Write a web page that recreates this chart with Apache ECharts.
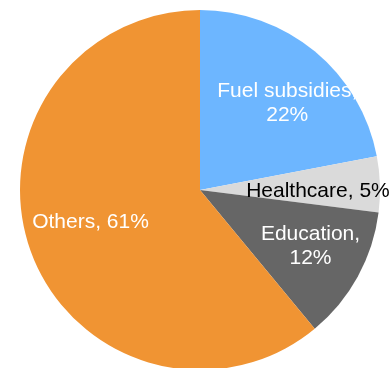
<!DOCTYPE html>
<html>
<head>
<meta charset="utf-8">
<style>
  html, body { margin: 0; padding: 0; background: #fff; }
  #chart { width: 389px; height: 368px; }
</style>
<script src="https://cdn.jsdelivr.net/npm/echarts@6/dist/echarts.min.js"></script>
</head>
<body>
<div id="chart"></div>
<script>
// Budget shares by category (percent)
const categories = ['Fuel subsidies', 'Healthcare', 'Education', 'Others'];
const shares = [22, 5, 12, 61];
const colors = ['#6DB6FF', '#DADADA', '#666666', '#F09433'];
const labelColors = ['#ffffff', '#000000', '#ffffff', '#ffffff'];
// Label text layout and nudges from the default inside position
const labelTemplates = ['{b},\n{c}%', '{b}, {c}%', '{b},\n{c}%', '{b}, {c}%'];
const labelOffsets = [[28, -15], [25, 4], [29, 11], [-22, 1]];

const chart = echarts.init(document.getElementById('chart'), null, { renderer: 'canvas' });

const data = categories.map((name, i) => ({
  name,
  value: shares[i],
  itemStyle: { color: colors[i] },
  label: {
    color: labelColors[i],
    formatter: labelTemplates[i],
    offset: labelOffsets[i]
  }
}));

chart.setOption({
  animation: false,
  backgroundColor: '#ffffff',
  series: [{
    type: 'pie',
    center: [200, 190],
    radius: [0, 180],
    startAngle: 90,
    clockwise: true,
    silent: true,
    avoidLabelOverlap: false,
    itemStyle: { borderWidth: 0 },
    label: {
      show: true,
      position: 'inside',
      fontFamily: 'Liberation Sans, Arial, sans-serif',
      fontSize: 21,
      lineHeight: 24,
      align: 'center'
    },
    labelLine: { show: false },
    data
  }]
});
</script>
</body>
</html>
